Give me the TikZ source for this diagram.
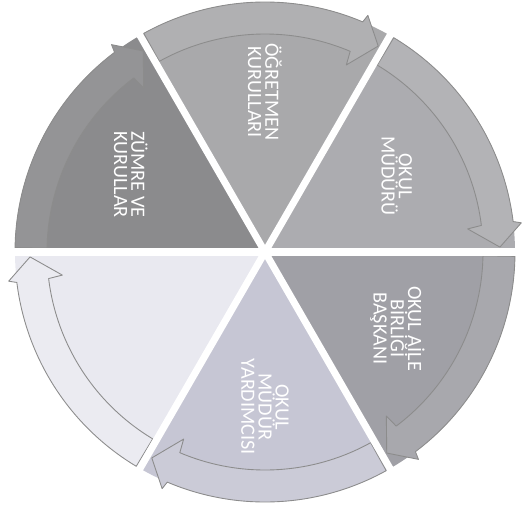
\documentclass[tikz,border=0pt]{standalone}
\usepackage{fontspec}
\setmainfont{Carlito}
\usepackage{xcolor}
\usepackage{tikz}
\usetikzlibrary{positioning}

\definecolor{ogretmen}{HTML}{A9A9AB}
\definecolor{mudur}{HTML}{ACACB0}
\definecolor{aile}{HTML}{A0A0A6}
\definecolor{yardimci}{HTML}{C6C6D4}
\definecolor{bos}{HTML}{E9E9F0}
\definecolor{zumre}{HTML}{8B8B8D}

\begin{document}
\begin{tikzpicture}[
  cyclearrow/.style={draw=black!45, line width=0.5pt, line join=round},
  gapline/.style={white, line width=4pt},
  lbl/.style={text=white, align=center, rotate=-90, inner sep=0pt,
    font=\fontsize{11.5}{9.8}\selectfont}
]
  \useasboundingbox (-5.3,-5.2) rectangle (5.2,5.04);
  % six sectors of the cycle
  \foreach \a/\col in {60/ogretmen, 0/mudur, -60/aile, -120/yardimci, -180/bos, 120/zumre}{
    \fill[\col] (0,0) -- (\a:5) arc[start angle=\a, end angle=\a+60, radius=5] -- cycle;
  }
  % clockwise arrows along the rim
  \foreach \a/\col in {60/ogretmen, 0/mudur, -60/aile, -120/yardimci, -180/bos, 120/zumre}{
    \filldraw[cyclearrow, fill=\col!92!white]
      (\a+59:5) arc[start angle=\a+59, end angle=\a+7, radius=5]
      -- (\a+6.5:5.16) -- (\a+1.2:4.7) -- (\a+6.5:4.08) -- (\a+7:4.36)
      arc[start angle=\a+7, end angle=\a+59, radius=4.36] -- cycle;
  }
  % white gaps between the sectors
  \foreach \a in {0,60,...,300}{
    \draw[gapline] (0,0) -- (\a:5.4);
  }
  % labels
  \node[lbl] (ogretmen) at (90:3.2) {ÖĞRETMEN\\KURULLARI};
  \node[lbl] (mudur) at (30:3.04) {OKUL\\MÜDÜRÜ};
  \node[lbl] (aile) at (-30:3.06) {OKUL AİLE\\BİRLİĞİ\\BAŞKANI};
  \node[lbl] (yardimci) at (-90:3.1) {OKUL\\MÜDÜR\\YARDIMCISI};
  \node[lbl] (zumre) at (150:3.1) {ZÜMRE VE\\KURULLAR};
\end{tikzpicture}
\end{document}
